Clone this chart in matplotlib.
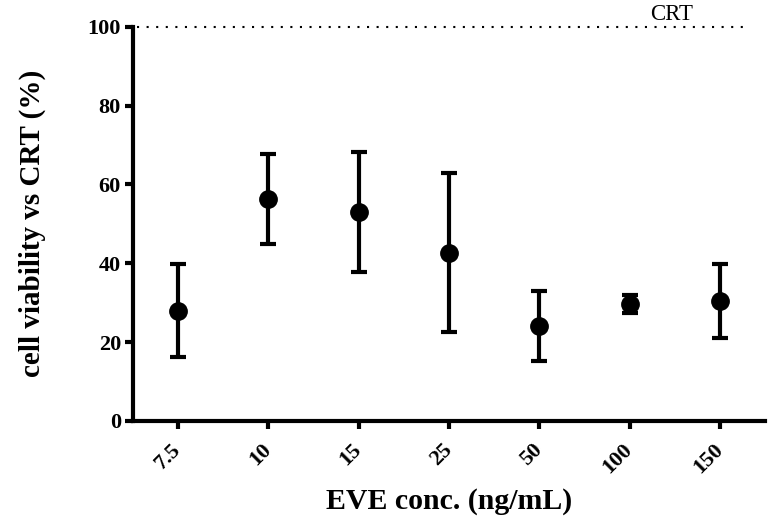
import matplotlib.pyplot as plt
import numpy as np

# data
conc = ['7.5', '10', '15', '25', '50', '100', '150']
viability = [27.9, 56.3, 53.0, 42.7, 24.1, 29.7, 30.5]
err_upper = [39.8, 67.7, 68.3, 63.0, 33.0, 32.0, 39.8]
err_lower = [16.1, 45.0, 37.7, 22.6, 15.2, 27.3, 21.1]
crt_level = 100

plt.rcParams['font.family'] = ['Liberation Serif', 'DejaVu Serif']

fig = plt.figure(figsize=(7.76, 5.26), dpi=100)
ax = fig.add_axes([0.171, 0.2, 0.815, 0.749])

x = np.arange(len(conc))
v = np.array(viability)
yerr = [v - np.array(err_lower), np.array(err_upper) - v]
ax.errorbar(x, v, yerr=yerr, fmt='o', color='black', ms=12.5,
            elinewidth=3, capsize=5.6, capthick=3)

# CRT reference line
ax.plot([-0.45, 6.25], [crt_level, crt_level], color='black', lw=1.5,
        linestyle=(0, (1, 3.6)), clip_on=False)
ax.text(5.47, crt_level + 1.8, 'CRT', ha='center', va='baseline',
        fontsize=16.5)

ax.set_xlim(-0.5, 6.5)
ax.set_ylim(0, 100)
ax.set_yticks([0, 20, 40, 60, 80, 100])
ax.set_xticks(x)
ax.set_xticklabels(conc, rotation=45, ha='right', va='center',
                   rotation_mode='anchor')
for lab in ax.get_xticklabels() + ax.get_yticklabels():
    lab.set_fontweight('bold')
    lab.set_fontsize(16)

ax.spines['top'].set_visible(False)
ax.spines['right'].set_visible(False)
ax.spines['left'].set_linewidth(3)
ax.spines['bottom'].set_linewidth(3)
ax.tick_params(axis='both', width=3, length=5.5, direction='out')
ax.tick_params(axis='x', pad=13)
ax.tick_params(axis='y', pad=3)

ax.set_xlabel('EVE conc. (ng/mL)', fontsize=21.5, fontweight='bold',
              labelpad=8)
ax.set_ylabel('cell viability vs CRT (%)', fontsize=21, fontweight='bold',
              labelpad=30)

plt.savefig('out.png', dpi=100)
